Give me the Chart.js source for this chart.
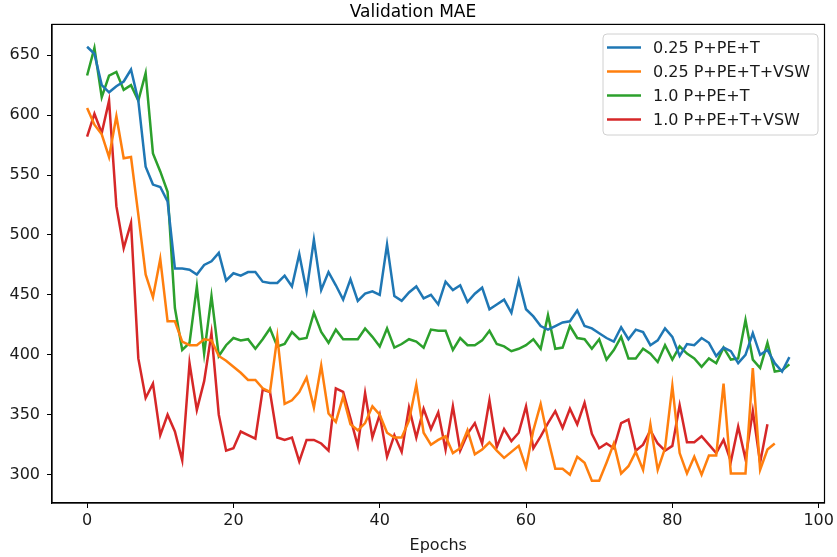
<!DOCTYPE html>
<html>
<head>
<meta charset="utf-8">
<title>Validation MAE</title>
<script src="https://cdn.jsdelivr.net/npm/chart.js@4.4.1/dist/chart.umd.min.js"></script>
<style>
  html, body { margin: 0; padding: 0; background: #fff; }
  #wrap { width: 837px; height: 557px; }
</style>
</head>
<body>
<div id="wrap"><canvas id="maeChart" width="837" height="557"></canvas></div>
<script>
// validation MAE per epoch, one array per run
const seriesLabels = ['0.25 P+PE+T', '0.25 P+PE+T+VSW', '1.0 P+PE+T', '1.0 P+PE+T+VSW'];
const seriesColors = ['#1f77b4', '#ff7f0e', '#2ca02c', '#d62728'];

const maeQuarterBase = [
  657, 651, 625, 619, 624, 628, 638, 612, 557, 542, 540, 528, 472, 472, 471, 467, 475, 478, 485, 462,
  468, 466, 469, 469, 461, 460, 460, 466, 457, 484, 453, 496, 454, 469, 458, 446, 463, 445, 451, 453,
  450, 492, 449, 445, 452, 457, 447, 450, 442, 461, 454, 458, 444, 451, 456, 438, 442, 446, 435, 462,
  438, 432, 424, 421, 424, 427, 428, 437, 424, 422, 418, 414, 411, 423, 413, 421, 419, 408, 412, 422,
  415, 399, 409, 408, 414, 410, 399, 406, 403, 393, 400, 418, 400, 404, 393, 386, 398
];
const maeQuarterVsw = [
  606, 592, 584, 565, 599, 564, 565, 517, 467, 448, 480, 428, 428, 411, 408, 408, 413, 412, 399, 395,
  390, 385, 379, 379, 372, 369, 415, 359, 362, 369, 381, 356, 391, 351, 344, 365, 342, 337, 343, 357,
  350, 335, 331, 331, 345, 375, 335, 325, 329, 332, 318, 322, 337, 317, 321, 327, 320, 314, 319, 324,
  306, 337, 359, 330, 305, 305, 300, 315, 310, 295, 295, 310, 326, 301, 307, 319, 304, 342, 304, 322,
  374, 318, 301, 315, 300, 316, 316, 376, 301, 301, 301, 389, 304, 321, 326
];
const maeFullBase = [
  633, 656, 615, 633, 636, 621, 625, 612, 635, 568, 553, 536, 439, 404, 410, 457, 401, 449, 399, 408,
  414, 412, 413, 405, 413, 422, 407, 409, 419, 413, 414, 435, 419, 410, 421, 413, 413, 413, 422, 415,
  407, 422, 406, 409, 413, 411, 406, 421, 420, 420, 404, 414, 408, 408, 412, 420, 409, 407, 403, 405,
  408, 413, 405, 433, 405, 406, 424, 414, 413, 405, 413, 396, 404, 415, 397, 397, 405, 401, 394, 408,
  396, 407, 401, 397, 390, 397, 393, 406, 396, 397, 429, 396, 389, 410, 386, 387, 392
];
const maeFullVsw = [
  582, 601, 585, 612, 524, 489, 510, 397, 364, 376, 333, 350, 336, 312, 393, 354, 378, 418, 350, 320,
  322, 336, 333, 330, 371, 369, 331, 329, 331, 311, 329, 329, 326, 320, 372, 369, 347, 324, 368, 331,
  350, 315, 333, 319, 356, 331, 355, 338, 352, 321, 357, 320, 334, 343, 326, 362, 323, 338, 328, 335,
  357, 322, 332, 343, 353, 339, 355, 342, 360, 334, 322, 326, 322, 343, 346, 320, 325, 337, 326, 320,
  324, 358, 327, 327, 332, 325, 318, 329, 311, 340, 313, 353, 310, 342
];

const xTickValues = [0, 20, 40, 60, 80, 100];
const yTickValues = [300, 350, 400, 450, 500, 550, 600, 650];

const allSeries = [maeQuarterBase, maeQuarterVsw, maeFullBase, maeFullVsw];
const font = "'DejaVu Sans', 'Liberation Sans', sans-serif";

// matplotlib-style full frame plus a boxed legend in the upper right
const frameAndLegend = {
  id: 'frameAndLegend',
  afterDraw(chart) {
    const ctx = chart.ctx;
    const a = chart.chartArea;
    ctx.save();
    ctx.strokeStyle = '#000';
    ctx.lineWidth = 1.2;
    ctx.strokeRect(a.left, a.top, a.right - a.left, a.bottom - a.top);

    const bx = 603, by = 34, bw = 215, bh = 101, r = 4;
    ctx.beginPath();
    ctx.roundRect(bx, by, bw, bh, r);
    ctx.fillStyle = 'rgba(255,255,255,0.8)';
    ctx.fill();
    ctx.strokeStyle = '#d0d0d0';
    ctx.lineWidth = 1;
    ctx.stroke();

    ctx.font = '16px ' + font;
    ctx.textBaseline = 'middle';
    ctx.textAlign = 'left';
    chart.data.datasets.forEach((ds, i) => {
      const y = 47.5 + i * 24;
      ctx.strokeStyle = ds.borderColor;
      ctx.lineWidth = 2.5;
      ctx.beginPath();
      ctx.moveTo(607, y);
      ctx.lineTo(641, y);
      ctx.stroke();
      ctx.fillStyle = '#1a1a1a';
      ctx.fillText(ds.label, 653, y + 1);
    });
    ctx.restore();
  }
};

const ctx = document.getElementById('maeChart').getContext('2d');
new Chart(ctx, {
  type: 'line',
  data: {
    datasets: allSeries.map((values, i) => ({
      label: seriesLabels[i],
      data: values.map((v, epoch) => ({ x: epoch, y: v })),
      borderColor: seriesColors[i],
      backgroundColor: seriesColors[i],
      borderWidth: 2.5,
      pointRadius: 0,
      tension: 0,
      fill: false
    }))
  },
  options: {
    responsive: false,
    animation: false,
    layout: { padding: { top: 0, right: 11, left: 0, bottom: 0 } },
    plugins: {
      legend: { display: false },
      tooltip: { enabled: false },
      title: {
        display: true,
        text: 'Validation MAE',
        color: '#000',
        font: { family: font, size: 17, weight: 'normal' },
        padding: { top: 2, bottom: 2 }
      }
    },
    scales: {
      x: {
        type: 'linear',
        min: -4.8,
        max: 100.8,
        afterBuildTicks: scale => { scale.ticks = xTickValues.map(v => ({ value: v })); },
        afterFit: scale => { scale.height = 54; },
        grid: { drawOnChartArea: false, drawTicks: true, tickLength: 5, color: '#000' },
        border: { display: true, color: '#000', width: 1.2 },
        ticks: { color: '#1a1a1a', font: { family: font, size: 16 }, padding: 3, maxRotation: 0 },
        title: {
          display: true,
          text: 'Epochs',
          color: '#1a1a1a',
          font: { family: font, size: 16 },
          padding: { top: 0, bottom: 2 }
        }
      },
      y: {
        type: 'linear',
        min: 276.35,
        max: 675.65,
        afterBuildTicks: scale => { scale.ticks = yTickValues.map(v => ({ value: v })); },
        afterFit: scale => { scale.width = 52; },
        grid: { drawOnChartArea: false, drawTicks: true, tickLength: 5, color: '#000' },
        border: { display: true, color: '#000', width: 1.2 },
        ticks: { color: '#1a1a1a', font: { family: font, size: 16 }, padding: 7 }
      }
    }
  },
  plugins: [frameAndLegend]
});
</script>
</body>
</html>
